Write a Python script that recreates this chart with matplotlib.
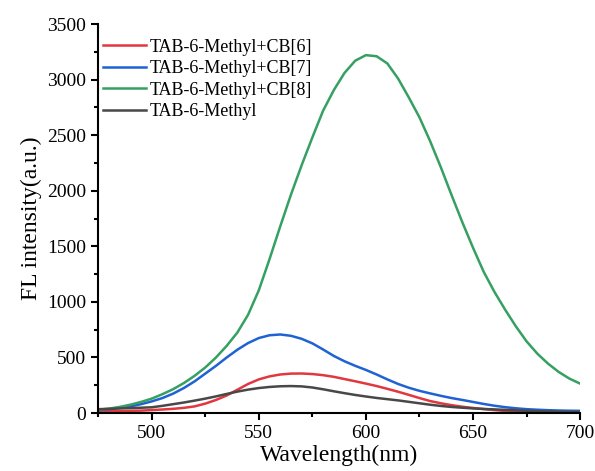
import numpy as np
import matplotlib
matplotlib.use('Agg')
import matplotlib.pyplot as plt
from matplotlib.ticker import MultipleLocator

plt.rcParams['font.family'] = ['Liberation Serif', 'DejaVu Serif']

# Wavelength grid (nm)
wl = np.arange(475, 701, 5)

# FL intensity, one value per 5 nm
cb6 = [20, 18, 18, 20, 22, 27, 32, 38, 47, 60,
       85, 118, 158, 210, 262, 303, 330, 347, 355, 356,
       351, 341, 326, 306, 286, 265, 243, 218, 192, 164,
       135, 108, 88, 71, 57, 46, 36, 27, 19, 12,
       7, 4, 2, 1, 0, 0]
cb7 = [28, 35, 45, 60, 80, 105, 135, 175, 225, 285,
       355, 425, 500, 570, 630, 675, 700, 707, 695, 668,
       627, 572, 514, 466, 425, 388, 347, 303, 262, 228,
       200, 177, 155, 135, 118, 100, 82, 66, 53, 43,
       35, 30, 26, 23, 21, 20]
cb8 = [30, 40, 55, 75, 100, 130, 170, 215, 270, 335,
       410, 500, 605, 725, 885, 1105, 1385, 1680, 1965, 2230,
       2480, 2720, 2905, 3060, 3170, 3220, 3210, 3145, 3010, 2840,
       2660, 2445, 2210, 1960, 1717, 1487, 1270, 1090, 930, 780,
       645, 535, 445, 370, 310, 265]
free = [35, 38, 42, 45, 48, 52, 65, 80, 95, 112,
        130, 150, 172, 193, 211, 225, 235, 241, 243, 240,
        230, 214, 196, 179, 163, 149, 136, 125, 114, 101,
        88, 75, 64, 55, 48, 42, 37, 33, 29, 25,
        21, 18, 15, 12, 11, 10]

labels = ['TAB-6-Methyl+CB[6]', 'TAB-6-Methyl+CB[7]',
          'TAB-6-Methyl+CB[8]', 'TAB-6-Methyl']
colors = ['#E0383E', '#1F62D3', '#35A062', '#484848']

fig = plt.figure(figsize=(5.95, 4.71), dpi=100)
ax = fig.add_axes([0.165, 0.123, 0.81, 0.826])

for y, lab, c in zip([cb6, cb7, cb8, free], labels, colors):
    ax.plot(wl, y, color=c, lw=1.8, label=lab)

ax.set_xlim(475, 700)
ax.set_ylim(0, 3500)
ax.xaxis.set_major_locator(MultipleLocator(50))
ax.xaxis.set_minor_locator(MultipleLocator(25))
ax.yaxis.set_major_locator(MultipleLocator(500))
ax.yaxis.set_minor_locator(MultipleLocator(250))

for s in ['top', 'right']:
    ax.spines[s].set_visible(False)
for s in ['left', 'bottom']:
    ax.spines[s].set_linewidth(1.5)

ax.tick_params(which='major', direction='out', length=5, width=1.5,
               labelsize=14, colors='black')
ax.tick_params(which='minor', direction='out', length=3, width=1.5)

ax.set_xlabel('Wavelength(nm)', fontsize=17, labelpad=2)
ax.set_ylabel('FL intensity(a.u.)', fontsize=17, labelpad=4)

ax.legend(loc='upper left', frameon=False, fontsize=13,
          handlelength=2.35, handletextpad=0.2, labelspacing=0.25,
          borderaxespad=0.2, bbox_to_anchor=(-0.012, 0.99))

plt.savefig('out.png', dpi=100)
plt.close()
